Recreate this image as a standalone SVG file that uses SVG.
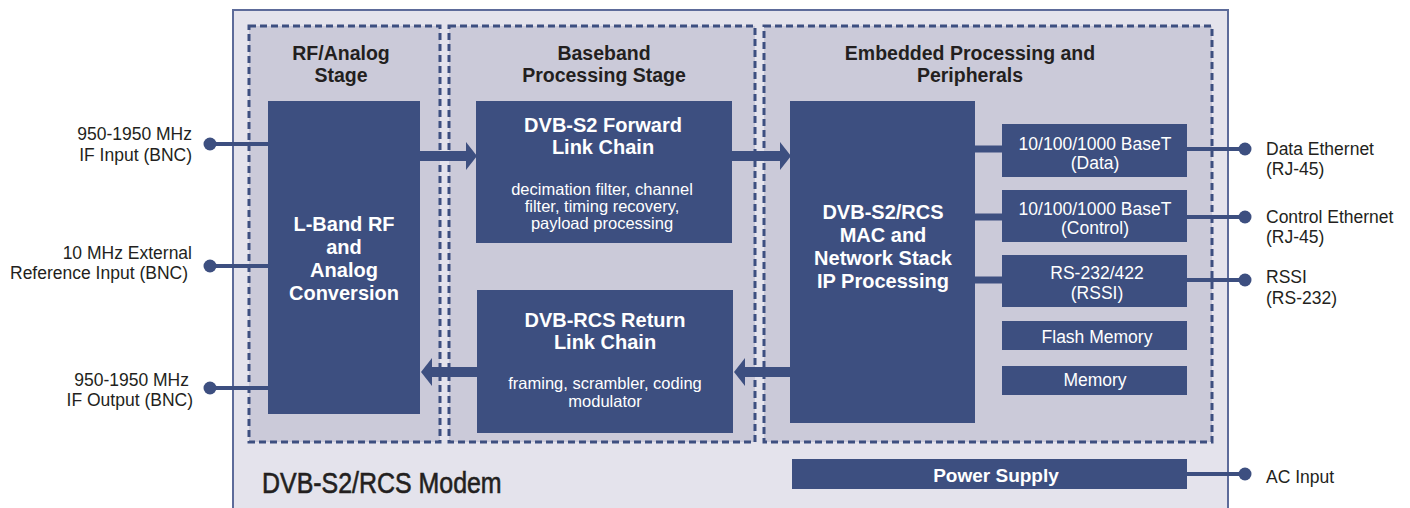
<svg xmlns="http://www.w3.org/2000/svg" width="1410" height="508" viewBox="0 0 1410 508">
<style>
.panel{fill:#cbcad9;stroke:#3d4f80;stroke-width:3;stroke-dasharray:7 4}
.blk{fill:#3d4f80}
.lbl{font-family:"Liberation Sans",Arial,sans-serif;font-size:17.5px;fill:#231f20}
.hd{font-family:"Liberation Sans",Arial,sans-serif;font-size:19.5px;font-weight:bold;fill:#231f20;text-anchor:middle}
.bt{font-family:"Liberation Sans",Arial,sans-serif;font-size:20px;font-weight:bold;fill:#ffffff;text-anchor:middle}
.st{font-family:"Liberation Sans",Arial,sans-serif;font-size:17.5px;fill:#ffffff;text-anchor:middle}
.sub{font-family:"Liberation Sans",Arial,sans-serif;font-size:16.5px;fill:#ffffff;text-anchor:middle}
.thin{stroke:#3d4f80;stroke-width:4;fill:none}
.mid{stroke:#3d4f80;stroke-width:7;fill:none}
.thick{stroke:#3d4f80;stroke-width:10;fill:none}
.dot{fill:#3d4f80}
.ah{fill:#3d4f80}
</style>
<g id="modem">
<rect x="233" y="10" width="995" height="510" fill="#e4e3ec" stroke="#5d6b9a" stroke-width="2"/>
<text transform="translate(262,493) scale(0.86,1)" font-family="Liberation Sans, Arial, sans-serif" font-size="29" fill="#231f20" stroke="#231f20" stroke-width="0.6">DVB-S2/RCS Modem</text>
</g>
<g id="rf-stage">
<rect class="panel" x="249" y="26" width="191" height="416"/>
<text class="hd" x="341" y="60">RF/Analog</text>
<text class="hd" x="341" y="82">Stage</text>
</g>
<g id="baseband-stage">
<rect class="panel" x="449" y="26" width="306" height="416"/>
<text class="hd" x="604" y="60">Baseband</text>
<text class="hd" x="604" y="82">Processing Stage</text>
</g>
<g id="embedded-stage">
<rect class="panel" x="764" y="26" width="448" height="416"/>
<text class="hd" x="970" y="60">Embedded Processing and</text>
<text class="hd" x="970" y="82">Peripherals</text>
</g>
<g id="connectors">
<line class="thin" x1="210" y1="144" x2="268" y2="144"/>
<circle class="dot" cx="210" cy="144" r="6.5"/>
<line class="thin" x1="210" y1="266" x2="268" y2="266"/>
<circle class="dot" cx="210" cy="266" r="6.5"/>
<line class="thin" x1="210" y1="388" x2="268" y2="388"/>
<circle class="dot" cx="210" cy="388" r="6.5"/>
<line class="thick" x1="420" y1="156" x2="468" y2="156"/>
<polygon class="ah" points="466,142 477,156 466,170"/>
<line class="thick" x1="732" y1="156" x2="782" y2="156"/>
<polygon class="ah" points="780,142 791,156 780,170"/>
<line class="thick" x1="790" y1="372" x2="743" y2="372"/>
<polygon class="ah" points="745,358 734,372 745,386"/>
<line class="thick" x1="477" y1="372" x2="430" y2="372"/>
<polygon class="ah" points="432,358 421,372 432,386"/>
<line class="mid" x1="975" y1="149" x2="1002" y2="149"/>
<line class="thin" x1="1187" y1="149" x2="1245" y2="149"/>
<circle class="dot" cx="1245" cy="149" r="6.5"/>
<line class="mid" x1="975" y1="217" x2="1002" y2="217"/>
<line class="thin" x1="1187" y1="217" x2="1245" y2="217"/>
<circle class="dot" cx="1245" cy="217" r="6.5"/>
<line class="mid" x1="975" y1="280" x2="1002" y2="280"/>
<line class="thin" x1="1187" y1="280" x2="1245" y2="280"/>
<circle class="dot" cx="1245" cy="280" r="6.5"/>
<line class="thin" x1="1187" y1="474" x2="1245" y2="474"/>
<circle class="dot" cx="1245" cy="474" r="6.5"/>
</g>
<g id="lband">
<rect class="blk" x="268" y="101" width="152" height="313"/>
<text class="bt" x="344" y="231">L-Band RF</text>
<text class="bt" x="344" y="254">and</text>
<text class="bt" x="344" y="277">Analog</text>
<text class="bt" x="344" y="300">Conversion</text>
</g>
<g id="forward">
<rect class="blk" x="476" y="101" width="256" height="142"/>
<text class="bt" x="603" y="132">DVB-S2 Forward</text>
<text class="bt" x="603" y="154">Link Chain</text>
<text class="sub" x="602" y="195">decimation filter, channel</text>
<text class="sub" x="602" y="212">filter, timing recovery,</text>
<text class="sub" x="602" y="229">payload processing</text>
</g>
<g id="return">
<rect class="blk" x="477" y="290" width="256" height="143"/>
<text class="bt" x="605" y="327">DVB-RCS Return</text>
<text class="bt" x="605" y="349">Link Chain</text>
<text class="sub" x="605" y="389">framing, scrambler, coding</text>
<text class="sub" x="605" y="407">modulator</text>
</g>
<g id="mac">
<rect class="blk" x="790" y="101" width="185" height="322"/>
<text class="bt" x="883" y="219">DVB-S2/RCS</text>
<text class="bt" x="883" y="242">MAC and</text>
<text class="bt" x="883" y="265">Network Stack</text>
<text class="bt" x="883" y="288">IP Processing</text>
</g>
<g id="eth-data">
<rect class="blk" x="1002" y="124" width="185" height="53"/>
<text class="st" x="1095" y="150">10/100/1000 BaseT</text>
<text class="st" x="1095" y="169">(Data)</text>
</g>
<g id="eth-control">
<rect class="blk" x="1002" y="190" width="185" height="52"/>
<text class="st" x="1095" y="215">10/100/1000 BaseT</text>
<text class="st" x="1095" y="234">(Control)</text>
</g>
<g id="rs232">
<rect class="blk" x="1002" y="255" width="185" height="52"/>
<text class="st" x="1097" y="279">RS-232/422</text>
<text class="st" x="1097" y="299">(RSSI)</text>
</g>
<g id="flash">
<rect class="blk" x="1002" y="321" width="185" height="29"/>
<text class="st" x="1097" y="343">Flash Memory</text>
</g>
<g id="memory">
<rect class="blk" x="1002" y="366" width="185" height="29"/>
<text class="st" x="1095" y="386">Memory</text>
</g>
<g id="power">
<rect class="blk" x="792" y="459" width="395" height="30"/>
<text class="bt" x="996" y="482" style="font-size:19px">Power Supply</text>
</g>
<g id="ext-labels">
<text class="lbl" x="192" y="140" text-anchor="end">950-1950 MHz</text>
<text class="lbl" x="192" y="161" text-anchor="end">IF Input (BNC)</text>
<text class="lbl" x="192" y="259" text-anchor="end">10 MHz External</text>
<text class="lbl" x="188" y="279" text-anchor="end">Reference Input (BNC)</text>
<text class="lbl" x="189" y="386" text-anchor="end">950-1950 MHz</text>
<text class="lbl" x="193" y="406" text-anchor="end">IF Output (BNC)</text>
<text class="lbl" x="1266" y="155">Data Ethernet</text>
<text class="lbl" x="1266" y="175">(RJ-45)</text>
<text class="lbl" x="1266" y="223">Control Ethernet</text>
<text class="lbl" x="1266" y="243">(RJ-45)</text>
<text class="lbl" x="1266" y="283">RSSI</text>
<text class="lbl" x="1266" y="304">(RS-232)</text>
<text class="lbl" x="1266" y="483">AC Input</text>
</g>
</svg>
